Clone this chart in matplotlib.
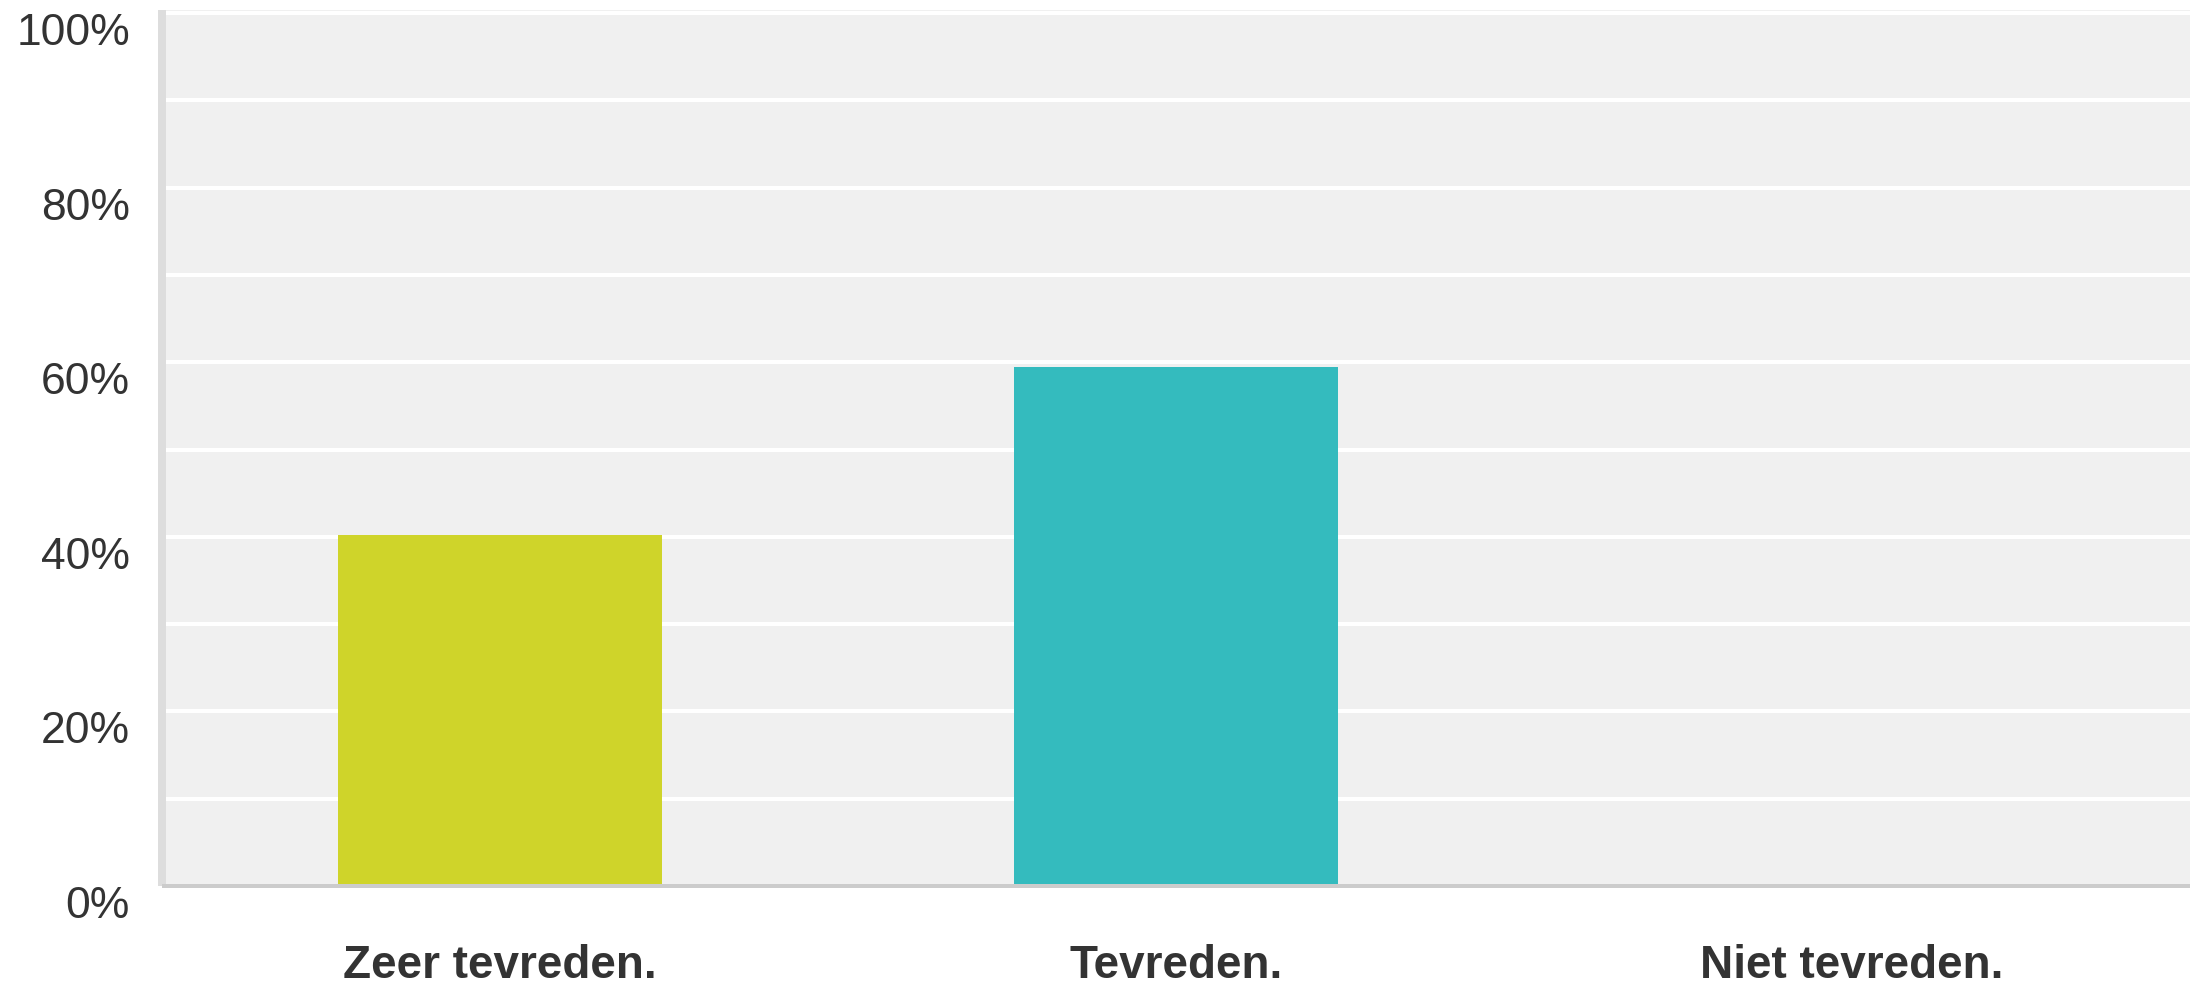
import matplotlib
matplotlib.use("Agg")
import matplotlib.pyplot as plt
from matplotlib.ticker import MultipleLocator, FuncFormatter

# survey answers (percent of respondents)
categories = ["Zeer tevreden.", "Tevreden.", "Niet tevreden."]
values = [40.2, 59.4, 0.0]
bar_colors = ["#CFD42A", "#34BBBE", "#9A9A9A"]
y_ticks = [0, 20, 40, 60, 80, 100]

plt.rcParams['font.family'] = ['Liberation Sans', 'DejaVu Sans']

W, H = 2191, 988
fig = plt.figure(figsize=(W / 100, H / 100), dpi=100)
# axes box in pixels: left 162, right 2190, bottom 886, top 10
ax = fig.add_axes([162 / W, (H - 886) / H, (2190 - 162) / W, (886 - 10) / H])
ax.set_facecolor("#F0F0F0")

x = list(range(len(categories)))
ax.bar(x, values, width=0.48, color=bar_colors, zorder=2)

ax.set_xlim(-0.5, len(categories) - 0.5)
ax.set_ylim(0, 100.35)

# white gridlines every 10%, labels every 20%
ax.yaxis.set_major_locator(MultipleLocator(10))
ax.yaxis.set_major_formatter(FuncFormatter(lambda v, p: "%d%%" % v if int(round(v)) in y_ticks else ""))
ax.grid(axis='y', color="white", linewidth=2.9, zorder=1)
ax.set_axisbelow(True)

ax.set_xticks(x)
ax.set_xticklabels(categories, fontsize=33, fontweight='bold', color="#333333")
ax.tick_params(axis='x', length=0, pad=42)
ax.tick_params(axis='y', length=0, pad=23, labelsize=32, labelcolor="#333333")
for lab in ax.get_yticklabels():
    lab.set_verticalalignment('top')

# spines
for s in ['top', 'right']:
    ax.spines[s].set_visible(False)
ax.spines['left'].set_color("#DDDDDD")
ax.spines['left'].set_linewidth(5.76)
ax.spines['left'].set_capstyle('butt')
ax.spines['bottom'].set_color("#CCCCCC")
ax.spines['bottom'].set_linewidth(2.88)
ax.spines['bottom'].set_capstyle('butt')
ax.spines['bottom'].set_zorder(3)

fig.savefig("out.png", dpi=100)
